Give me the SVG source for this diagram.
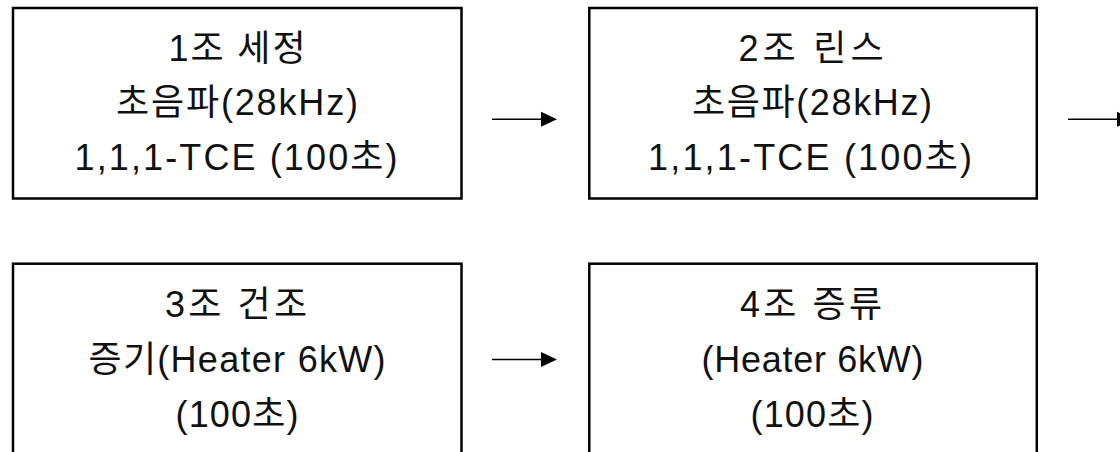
<svg xmlns="http://www.w3.org/2000/svg" width="1120" height="452" viewBox="0 0 1120 452">
  <style>
    .box { fill: #ffffff; stroke: #000000; stroke-width: 2.5; }
    .lbl { font-family: "Liberation Sans", "Noto Sans CJK KR", sans-serif; font-size: 36px; fill: #111111; text-anchor: middle; }
    .conn { stroke: #000000; stroke-width: 1.6; fill: none; }
  </style>
  <defs>
    <marker id="ah" markerUnits="userSpaceOnUse" markerWidth="16" markerHeight="15" refX="0" refY="7.5" orient="auto" overflow="visible">
      <path d="M0,0 L16,7.5 L0,15 Z" fill="#000000"/>
    </marker>
  </defs>
  <rect width="1120" height="452" fill="#ffffff"/>

  <g id="node1">
    <rect class="box" x="13" y="8" width="448.5" height="190.5"/>
    <text class="lbl" x="237" y="61" textLength="137" lengthAdjust="spacing">1조 세정</text>
    <text class="lbl" x="237" y="115" textLength="242" lengthAdjust="spacing">초음파(28kHz)</text>
    <text class="lbl" x="236" y="170" textLength="323" lengthAdjust="spacing">1,1,1-TCE (100초)</text>
  </g>

  <g id="node2">
    <rect class="box" x="589.3" y="8" width="447.5" height="190.5"/>
    <text class="lbl" x="811" y="61" textLength="145" lengthAdjust="spacing">2조 린스</text>
    <text class="lbl" x="812" y="115" textLength="240" lengthAdjust="spacing">초음파(28kHz)</text>
    <text class="lbl" x="810" y="170" textLength="324" lengthAdjust="spacing">1,1,1-TCE (100초)</text>
  </g>

  <g id="node3">
    <rect class="box" x="13" y="263.7" width="448.5" height="200"/>
    <text class="lbl" x="236" y="317" textLength="142" lengthAdjust="spacing">3조 건조</text>
    <text class="lbl" x="237" y="372" textLength="297" lengthAdjust="spacing">증기(Heater 6kW)</text>
    <text class="lbl" x="237" y="427" textLength="123" lengthAdjust="spacing">(100초)</text>
  </g>

  <g id="node4">
    <rect class="box" x="589.3" y="263.7" width="447.5" height="200"/>
    <text class="lbl" x="811" y="317" textLength="142" lengthAdjust="spacing">4조 증류</text>
    <text class="lbl" x="812.5" y="372" textLength="222" lengthAdjust="spacing">(Heater 6kW)</text>
    <text class="lbl" x="812" y="427" textLength="123" lengthAdjust="spacing">(100초)</text>
  </g>

  <g id="connectors">
    <line class="conn" x1="492" y1="119.3" x2="541" y2="119.3" marker-end="url(#ah)"/>
    <line class="conn" x1="1068" y1="119.3" x2="1117" y2="119.3" marker-end="url(#ah)"/>
    <line class="conn" x1="492" y1="359.5" x2="541" y2="359.5" marker-end="url(#ah)"/>
  </g>
</svg>
